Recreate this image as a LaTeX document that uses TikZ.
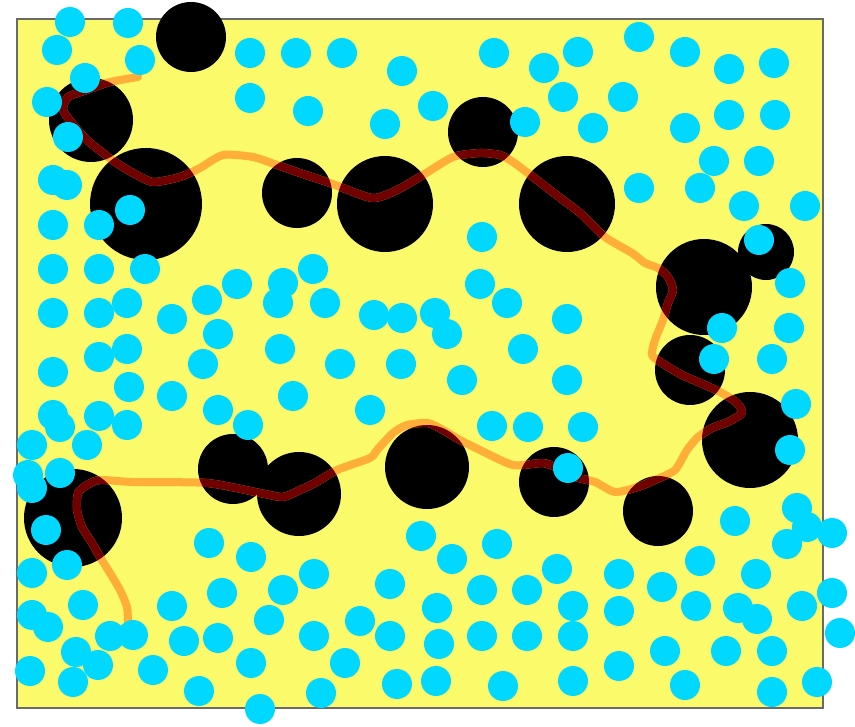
\documentclass[tikz,border=0pt]{standalone}
\usepackage{tikz}
\usetikzlibrary{positioning}
\definecolor{limon}{HTML}{FAFA6A}
\definecolor{celeste}{HTML}{00D8FF}
\definecolor{naranja}{HTML}{FFAE3A}
\definecolor{granate}{HTML}{700000}
\definecolor{marco}{HTML}{6A6A6A}
\tikzset{
  caja/.style={draw=marco, fill=limon, line width=1.5pt},
  poro/.style={fill=black},
  grano/.style={fill=celeste},
  camino/.style={draw=naranja, line width=8pt, line join=round, line cap=round},
  caminoosc/.style={camino, draw=granate},
}
% black holes: x/y/radius (pixel units)
\newcommand{\poros}{191/37/35, 91/120/42, 146/204/56, 297/193/35, 385/204/48,
  483/132/35, 567/204/48, 704/287/48, 766/252/28, 690/370/35, 750/440/48,
  658/511/35, 554/482/35, 427/467/42, 299/494/42, 233/469/35, 73/518/49}
% the winding track
\newcommand{\ruta}{plot[smooth, tension=0.4] coordinates {
  (138,77) (110,82) (87,90) (68,97) (63,110) (72,123) (87,140) (103,153)
  (115,162) (133,173) (153,182) (180,177) (200,168) (223,155) (253,157)
  (277,165) (300,173) (330,183) (372,198) (397,190) (423,175) (453,157)
  (480,153) (500,155) (513,162) (533,177) (563,200) (580,213) (605,237)
  (632,253) (645,263) (658,268) (668,277) (673,290) (668,303) (663,320)
  (655,340) (652,355) (662,363) (682,375) (705,385) (722,393) (737,403)
  (742,413) (728,422) (712,428) (698,437) (687,450) (675,470) (655,480)
  (638,487) (615,492) (595,482) (575,477) (557,468) (543,463) (513,465)
  (480,450) (460,440) (443,430) (428,423) (407,425) (393,433) (377,450)
  (370,458) (337,470) (315,483) (300,490) (283,497) (260,493) (207,483)
  (133,482) (100,480) (87,485) (78,493) (77,510) (82,527) (92,543)
  (100,557) (110,573) (120,590) (127,607) (128,623)}}

\begin{document}
\begin{tikzpicture}[x=1pt, y=-1pt]
  \useasboundingbox (0,0) rectangle (855,727);
  \draw[caja] (17,19) rectangle (823,708);
  % holes
  \foreach \x/\y/\r in \poros {
    \fill[poro] (\x,\y) circle (\r pt);
  }
  % track, darker where it crosses a hole
  \draw[camino] \ruta;
  \begin{scope}
    \clip foreach \x/\y/\r in \poros {(\x,\y) circle (\r pt)};
    \draw[caminoosc] \ruta;
  \end{scope}
  % grains
  \foreach \x/\y in {70/22, 128/23, 57/50, 140/60, 85/78, 47/102, 68/137,
    250/53, 250/98, 53/180, 67/185, 130/210, 53/225, 99/225,
    296/53, 342/53, 402/71, 308/111, 385/124, 433/106, 494/53, 544/68,
    578/52, 563/97, 525/122, 482/237,
    639/37, 685/52, 729/69, 774/63, 623/97, 593/128, 685/128, 729/115,
    775/115, 714/161, 759/161, 639/188, 700/188, 744/206, 805/206, 759/240,
    53/269, 99/269, 145/269, 53/313, 99/313, 127/303, 172/319, 207/300,
    237/284, 283/283, 278/303, 218/334, 99/357, 127/349, 53/372, 203/364,
    280/349, 129/387, 172/396, 293/396, 53/415, 60/427, 99/416, 127/425,
    218/410, 248/425, 32/445, 87/445, 28/475, 60/473,
    313/269, 325/303, 374/315, 402/318, 435/313, 447/334, 480/284, 507/303,
    567/319, 523/349, 340/364, 401/364, 462/380, 567/380, 370/410,
    492/426, 528/427, 583/427, 568/468,
    790/283, 722/328, 789/328, 714/359, 772/359, 796/404, 790/450,
    32/488, 46/530, 67/565, 32/573, 209/543, 251/557, 222/593, 283/590,
    83/605, 172/606, 32/615, 48/627, 269/620, 110/636, 133/635, 184/641,
    218/638, 76/652, 98/665, 30/671, 153/670, 251/663, 73/682, 199/691,
    260/709,
    421/536, 452/559, 497/544, 314/574, 390/584, 482/590, 527/590, 557/569,
    437/608, 573/606, 360/621, 314/636, 390/636, 439/644, 482/636, 527/636,
    573/636, 345/663, 321/693, 397/684, 436/681, 503/686, 573/681,
    735/521, 797/508, 807/527, 832/533, 787/544, 700/561, 619/574, 756/574,
    662/587, 619/611, 696/606, 738/608, 757/619, 802/606, 832/593, 840/633,
    665/651, 726/651, 772/651, 619/666, 685/685, 772/692, 817/682} {
    \fill[grano] (\x,\y) circle (15pt);
  }
\end{tikzpicture}
\end{document}
